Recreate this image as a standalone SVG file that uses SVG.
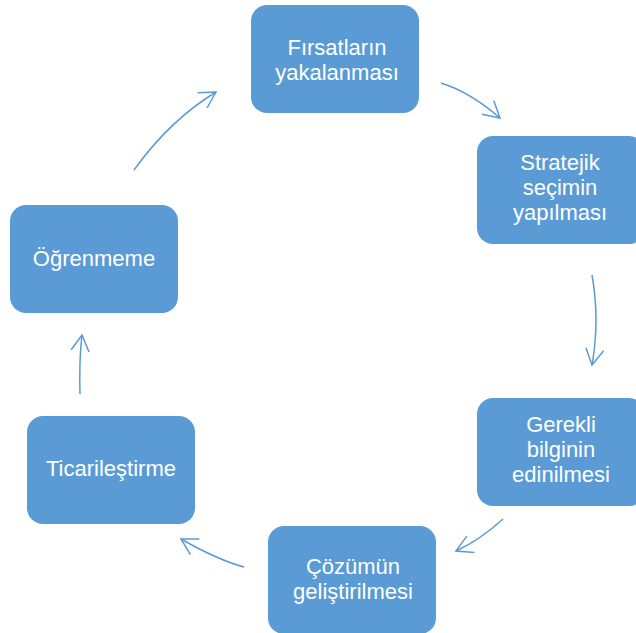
<svg xmlns="http://www.w3.org/2000/svg" width="636" height="633" viewBox="0 0 636 633">
<style>
.box{fill:#5B9BD5;}
.lbl{fill:#FFFFFF;font-family:"Liberation Sans",Arial,sans-serif;font-size:22px;text-anchor:middle;}
.con{fill:none;stroke:#5B9BD5;stroke-width:1.5;marker-end:url(#ah);}
</style>
<defs>
<marker id="ah" markerUnits="userSpaceOnUse" viewBox="-20 -12 24 24" refX="0" refY="0" markerWidth="24" markerHeight="24" orient="auto" overflow="visible">
<path d="M-16,-9 L0,0 L-16,9" fill="none" stroke="#5B9BD5" stroke-width="1.5" stroke-linejoin="miter"/>
</marker>
</defs>
<rect width="636" height="633" fill="#FFFFFF"/>
<g id="connectors">
<path class="con" d="M441,83 Q470,92 500,118"/>
<path class="con" d="M592,275 Q600,320 592,365"/>
<path class="con" d="M503,519 Q480,540 456,551"/>
<path class="con" d="M244,567 Q218,560 181,539"/>
<path class="con" d="M80,394 Q79,360 82,335"/>
<path class="con" d="M134,170 Q170,120 216,92"/>
</g>
<g id="n1">
<rect class="box" x="251" y="5" width="168" height="108" rx="16"/>
<text class="lbl"><tspan x="337" y="55">Fırsatların</tspan><tspan x="337" y="80">yakalanması</tspan></text>
</g>
<g id="n2">
<rect class="box" x="477" y="136" width="168" height="108" rx="16"/>
<text class="lbl"><tspan x="560" y="170">Stratejik</tspan><tspan x="560" y="195">seçimin</tspan><tspan x="560" y="220">yapılması</tspan></text>
</g>
<g id="n3">
<rect class="box" x="477" y="398" width="168" height="108" rx="16"/>
<text class="lbl"><tspan x="561" y="432">Gerekli</tspan><tspan x="561" y="457">bilginin</tspan><tspan x="561" y="482">edinilmesi</tspan></text>
</g>
<g id="n4">
<rect class="box" x="268" y="526" width="168" height="108" rx="16"/>
<text class="lbl"><tspan x="353" y="574">Çözümün</tspan><tspan x="353" y="599">geliştirilmesi</tspan></text>
</g>
<g id="n5">
<rect class="box" x="27" y="416" width="168" height="108" rx="16"/>
<text class="lbl" x="111" y="476">Ticarileştirme</text>
</g>
<g id="n6">
<rect class="box" x="10" y="205" width="168" height="108" rx="16"/>
<text class="lbl" x="94" y="266">Öğrenmeme</text>
</g>
</svg>
